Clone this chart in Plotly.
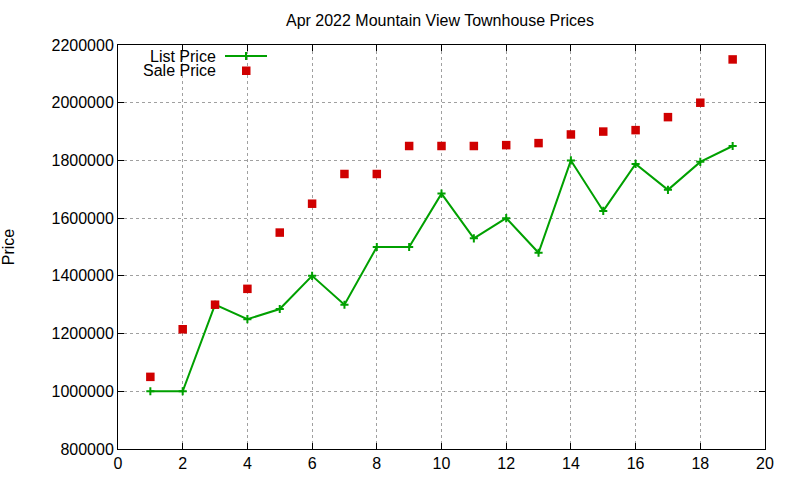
import plotly.graph_objects as go

x_index = list(range(1, 20))
list_price = [1000000, 1000000, 1300000, 1250000, 1285000, 1400000, 1300000, 1500000, 1500000,
              1685000, 1530000, 1600000, 1480000, 1800000, 1625000, 1788000, 1698000, 1795000, 1850000]
sale_price = [1050000, 1215000, 1300000, 1355000, 1550000, 1650000, 1753000, 1753000, 1850000,
              1850000, 1850000, 1853000, 1860000, 1890000, 1900000, 1905000, 1950000, 2000000, 2150000]
x_ticks = list(range(0, 21, 2))
y_ticks = list(range(800000, 2200001, 200000))

GREEN = "#00a000"
RED = "#d00000"
FONT = "Liberation Sans, Arial, sans-serif"

fig = go.Figure()
fig.add_trace(go.Scatter(x=x_index, y=list_price, mode="lines+markers", name="List Price",
                         line=dict(color=GREEN, width=2),
                         marker=dict(symbol="cross-thin", size=5.8, line=dict(color=GREEN, width=2))))
fig.add_trace(go.Scatter(x=x_index, y=sale_price, mode="markers", name="Sale Price",
                         marker=dict(symbol="square", size=8.5, color=RED)))

FIG_W, FIG_H = 800, 480
# plot area in page pixels
L, R, T, B = 118, 765, 45, 449
W, H = R - L, B - T
def px(x): return (x - L) / W
def py(y): return (B - y) / H

shapes = [
    dict(type="line", xref="paper", yref="paper", x0=px(225), x1=px(267), y0=py(56), y1=py(56),
         line=dict(color=GREEN, width=2)),
    dict(type="line", xref="paper", yref="paper", x0=px(246), x1=px(246), y0=py(52), y1=py(60),
         line=dict(color=GREEN, width=2)),
    dict(type="rect", xref="paper", yref="paper", x0=px(242), x1=px(250.5), y0=py(66.5), y1=py(75),
         fillcolor=RED, line=dict(width=0)),
]
annotations = [
    dict(text="List Price", xref="paper", yref="paper", x=px(217), y=py(56), xanchor="right",
         yanchor="middle", showarrow=False, borderpad=0, font=dict(size=16, color="black", family=FONT)),
    dict(text="Sale Price", xref="paper", yref="paper", x=px(217), y=py(71), xanchor="right",
         yanchor="middle", showarrow=False, borderpad=0, font=dict(size=16, color="black", family=FONT)),
]

axis_common = dict(showline=True, linecolor="black", linewidth=1, mirror="ticks",
                   ticks="inside", ticklen=6, tickcolor="black", showgrid=True,
                   gridcolor="#a0a0a0", griddash="dot", gridwidth=1, zeroline=False,
                   tickfont=dict(size=16, color="black", family=FONT))

fig.update_layout(
    width=FIG_W, height=FIG_H,
    margin=dict(l=L, r=FIG_W - R, t=T, b=FIG_H - B, autoexpand=False),
    paper_bgcolor="white", plot_bgcolor="white",
    showlegend=False,
    title=dict(text="Apr 2022 Mountain View Townhouse Prices", x=440 / FIG_W, xanchor="center",
               y=1 - 20 / FIG_H, yanchor="middle", font=dict(size=16, color="black", family=FONT)),
    font=dict(family=FONT, color="black"),
    shapes=shapes, annotations=annotations,
)
fig.update_xaxes(range=[0, 20], tickvals=x_ticks, **axis_common)
fig.update_yaxes(range=[800000, 2200000], tickvals=y_ticks, tickformat="d",
                 title=dict(text="Price", font=dict(size=16, color="black", family=FONT), standoff=33),
                 **axis_common)

fig.write_html("out.html", config={"displayModeBar": False},
               post_script="document.body.style.margin='0';document.body.style.overflow='hidden';")
